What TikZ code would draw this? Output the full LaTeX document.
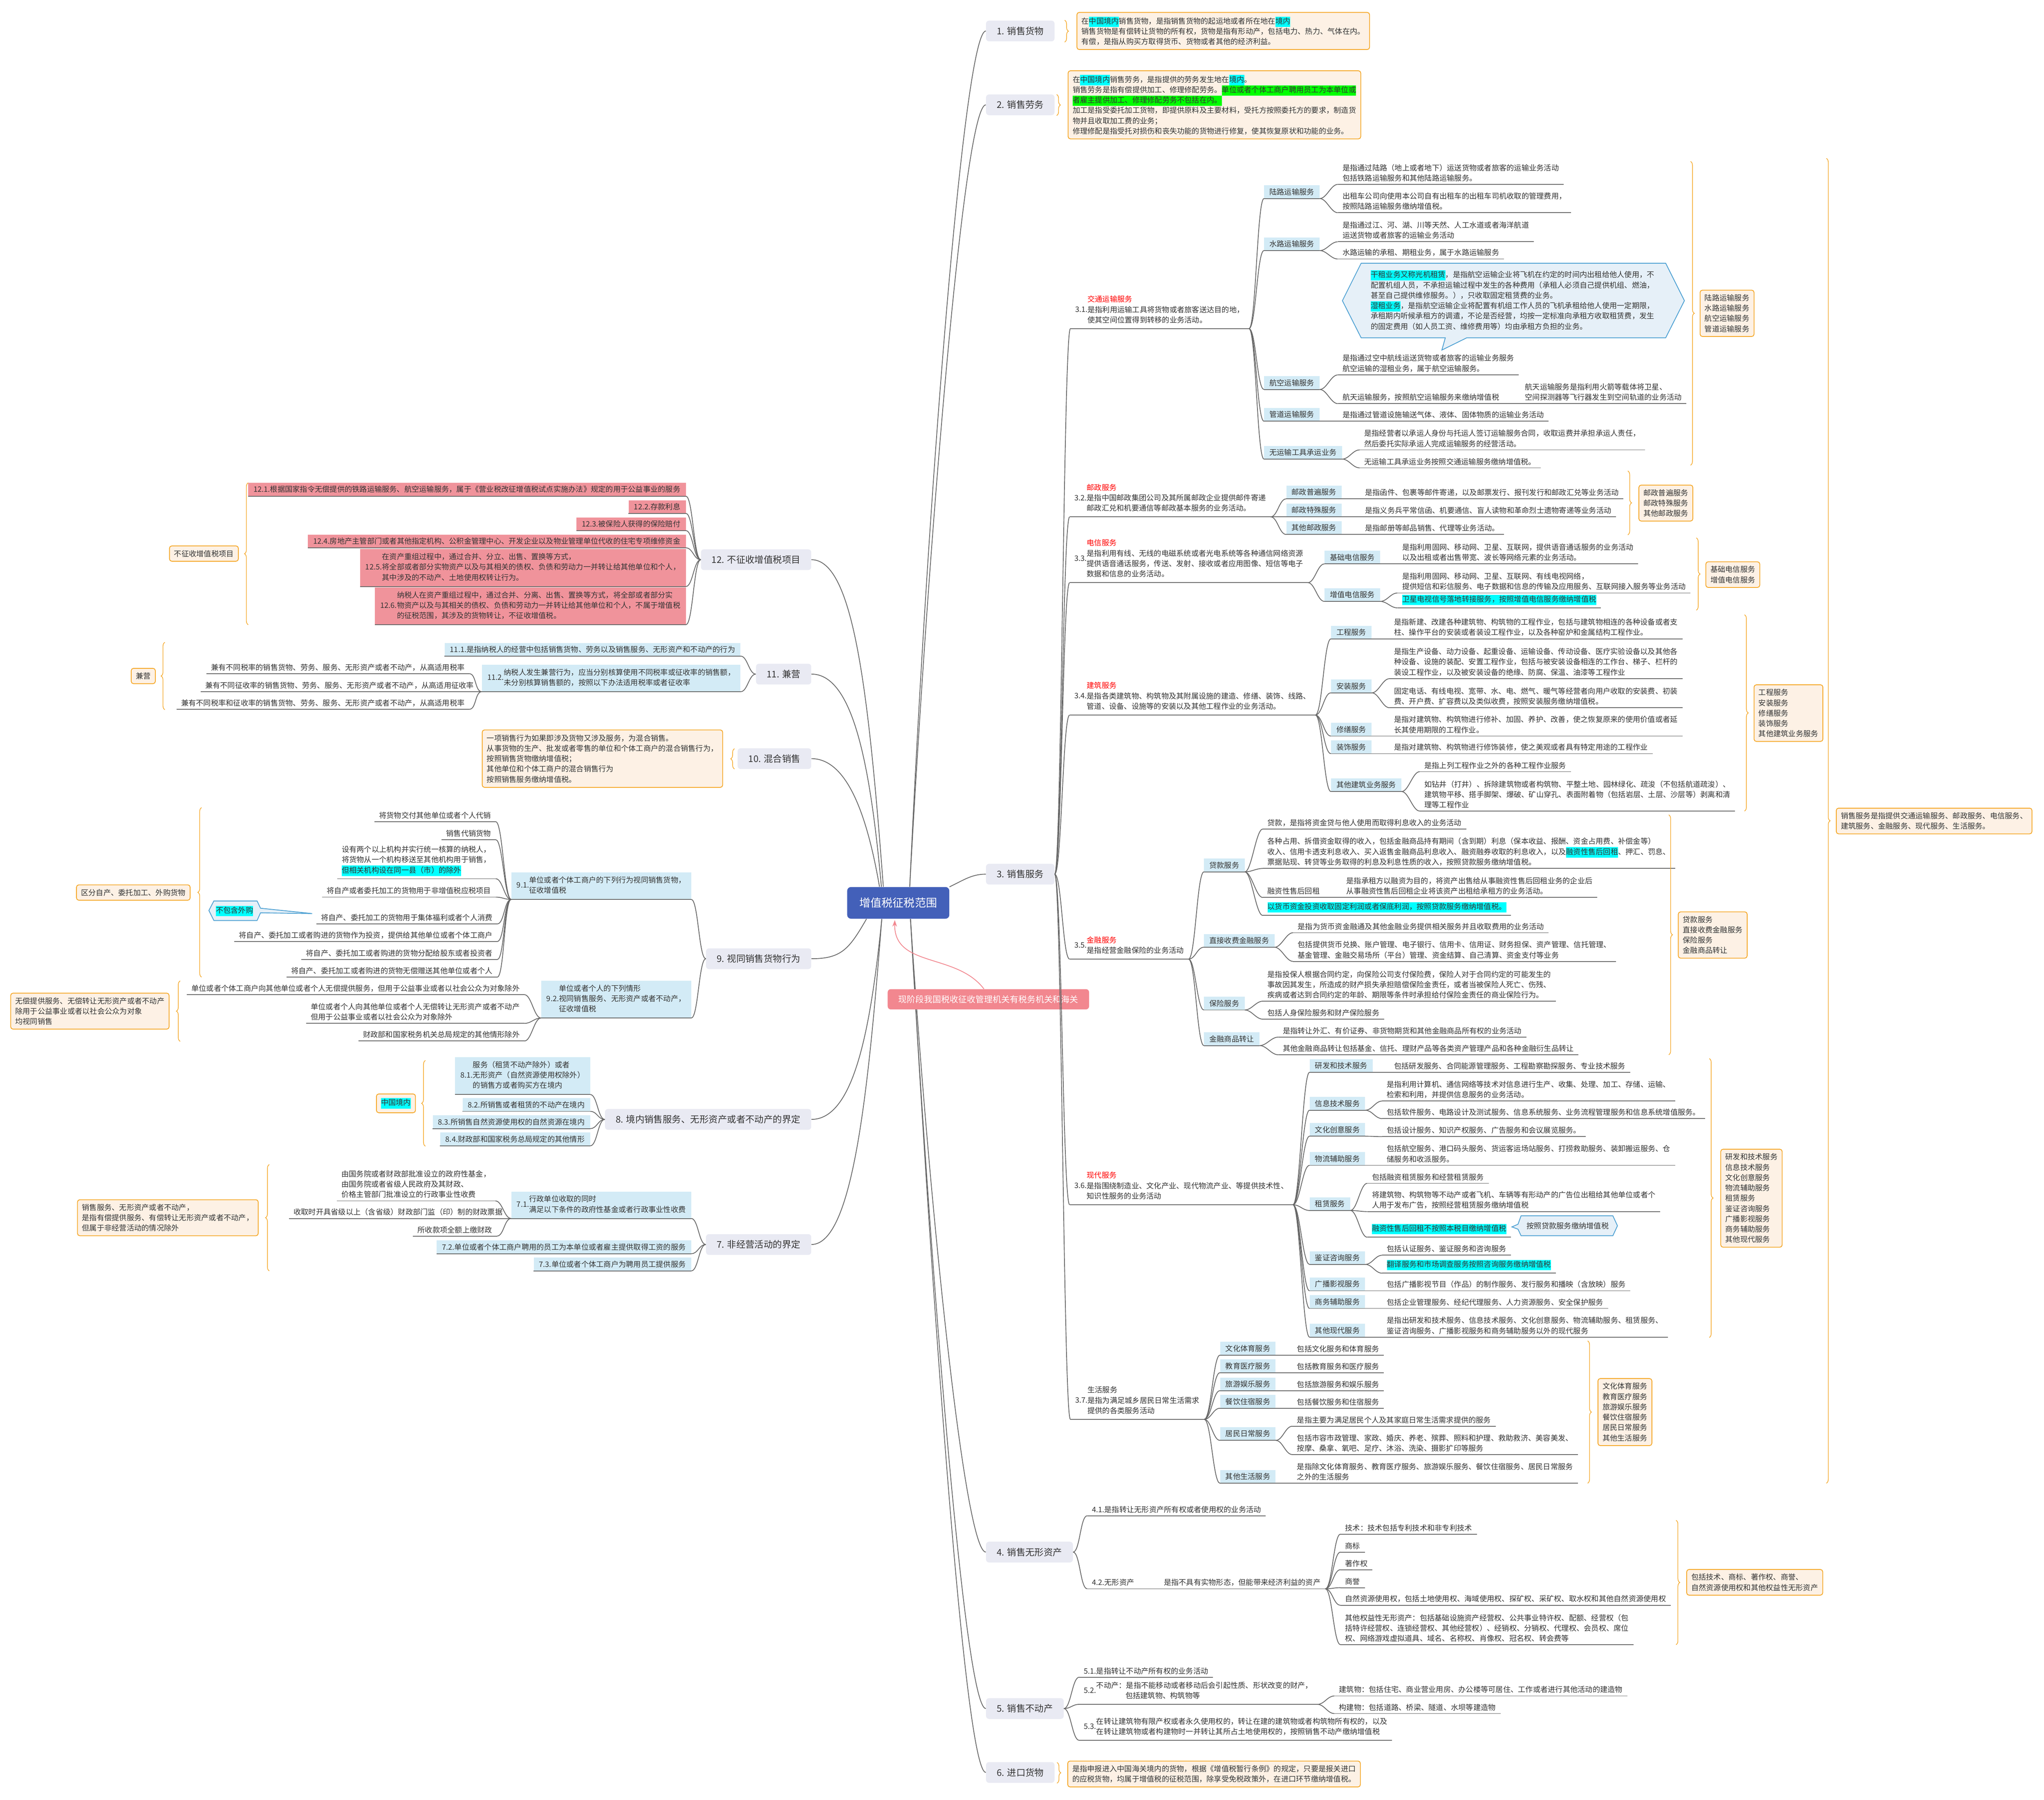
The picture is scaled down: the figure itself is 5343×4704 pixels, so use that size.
\documentclass[tikz,border=0pt]{standalone}
\usepackage{fontspec}
\setmainfont{Noto Sans CJK SC}
\usetikzlibrary{decorations.pathreplacing,arrows.meta}
\definecolor{txt}{HTML}{333333}
\definecolor{mainf}{HTML}{E9EAF3}
\definecolor{cenf}{HTML}{4360B9}
\definecolor{bluef}{HTML}{D3EBF6}
\definecolor{pinkf}{HTML}{F0939B}
\definecolor{notef}{HTML}{FDF1E5}
\definecolor{orng}{HTML}{F5A623}
\definecolor{lnc}{HTML}{666666}
\definecolor{callf}{HTML}{E6F0F8}
\definecolor{callb}{HTML}{4A9FD2}
\definecolor{rednote}{HTML}{F2878F}
\definecolor{hlc}{HTML}{00FFFF}
\definecolor{hlg}{HTML}{00FF00}
\newcommand\fs{\fontsize{9.75pt}{13.5pt}\selectfont}
\newcommand\fmn{\fontsize{12pt}{15pt}\selectfont}
\newcommand\fcn{\fontsize{14.5pt}{18pt}\selectfont}
\newcommand\frn{\fontsize{11.2pt}{14pt}\selectfont}
\newcommand\ml[1]{\begin{tabular}[c]{@{}l@{}}#1\end{tabular}}
\newcommand\hl[1]{{\setlength{\fboxsep}{0pt}\colorbox{hlc}{\strut#1}}}
\newcommand\hg[1]{{\setlength{\fboxsep}{0pt}\colorbox{hlg}{\strut#1}}}
\newcommand\rd[1]{\textcolor{red}{#1}}
\tikzset{
  mainbox/.style={fill=mainf,rounded corners=4pt,inner xsep=14pt,inner ysep=8pt,font=\fmn,text=txt},
  leaf/.style={inner xsep=6pt,inner ysep=3.5pt,font=\fs,text=txt,align=left},
  bx/.style={inner xsep=7pt,inner ysep=4pt,font=\fs,text=txt,align=left},
  ul/.style={draw=lnc,line width=1pt},
  cn/.style={draw=lnc,line width=1pt},
  note/.style={fill=notef,draw=orng,line width=1pt,rounded corners=3pt,inner xsep=6pt,inner ysep=5.5pt,font=\fs,text=txt,align=left},
  brc/.style={draw=orng,line width=0.8pt,decorate,decoration={brace,amplitude=5pt}},
  callout/.style={fill=callf,draw=callb,line width=1pt},
}
\newcommand\lfR[4]{\node[leaf,anchor=south west] (#1) at (#2,#3) {#4};\draw[ul] (#1.south west)--(#1.south east);}
\newcommand\lfL[4]{\node[leaf,anchor=south east] (#1) at (#2,#3) {#4};\draw[ul] (#1.south west)--(#1.south east);}
\newcommand\bxR[5]{\node[bx,fill=#4,anchor=south west] (#1) at (#2,#3) {#5};\draw[ul] (#1.south west)--(#1.south east);}
\newcommand\bxL[5]{\node[bx,fill=#4,anchor=south east] (#1) at (#2,#3) {#5};\draw[ul] (#1.south west)--(#1.south east);}
\newcommand\cnR[2]{\draw[cn] (#1) to[out=0,in=180,distance=9pt] (#2);}
\newcommand\cnL[2]{\draw[cn] (#1) to[out=180,in=0,distance=9pt] (#2);}
\newcommand\cxR[2]{\cnR{#1.south east}{#2.south west}}
\newcommand\cxL[2]{\cnL{#1.south west}{#2.south east}}
\newcommand\brR[3]{\draw[brc] (#1,#2) -- (#1,#3);}
\newcommand\brL[3]{\draw[brc] (#1,#3) -- (#1,#2);}
\begin{document}
\begin{tikzpicture}[x=0.5pt,y=-0.5pt]
\fill[white] (0,0) rectangle (5343,4704);
\useasboundingbox (0,0) rectangle (5343,4704);

% ===== central =====
\node[fill=cenf,rounded corners=5pt,text=white,font=\fcn,inner xsep=16pt,inner ysep=14pt] (c) at (2348,2360) {增值税征税范围};

% ===== main boxes =====
\node[mainbox,anchor=west] (m1) at (2577,81) {1. 销售货物};
\node[mainbox,anchor=west] (m2) at (2577,274) {2. 销售劳务};
\node[mainbox,anchor=west] (m3) at (2577,2285) {3. 销售服务};
\node[mainbox,anchor=west] (m4) at (2577,4057) {4. 销售无形资产};
\node[mainbox,anchor=west] (m5) at (2577,4466) {5. 销售不动产};
\node[mainbox,anchor=west] (m6) at (2577,4633) {6. 进口货物};
\node[mainbox,anchor=east] (m12) at (2121,1463) {12. 不征收增值税项目};
\node[mainbox,anchor=east] (m11) at (2121,1762) {11. 兼营};
\node[mainbox,anchor=east] (m10) at (2121,1983) {10. 混合销售};
\node[mainbox,anchor=east] (m9) at (2121,2506) {9. 视同销售货物行为};
\node[mainbox,anchor=east] (m8) at (2121,2926) {8. 境内销售服务、无形资产或者不动产的界定};
\node[mainbox,anchor=east] (m7) at (2121,3253) {7. 非经营活动的界定};

\coordinate (cU) at (2378,2318);
\coordinate (cD) at (2380,2402);
\coordinate (cU12) at (2309,2318);
\coordinate (cU11) at (2304,2318);
\coordinate (cU10) at (2299,2318);
\coordinate (cDL9) at (2265,2402);
\coordinate (cDL) at (2305,2402);
\draw[cn] (cU) .. controls (2425,1300) and (2520,81) .. (m1.west);
\draw[cn] (cU) .. controls (2428,1400) and (2520,274) .. (m2.west);
\draw[cn] (c.north east) .. controls (2520,2300) and (2540,2285) .. (m3.west);
\draw[cn] (cD) .. controls (2425,3100) and (2520,4057) .. (m4.west);
\draw[cn] (cD) .. controls (2428,3250) and (2520,4466) .. (m5.west);
\draw[cn] (cD) .. controls (2431,3300) and (2520,4633) .. (m6.west);
\draw[cn] (cU12) .. controls (2270,1800) and (2230,1463) .. (m12.east);
\draw[cn] (cU11) .. controls (2275,2000) and (2230,1762) .. (m11.east);
\draw[cn] (cU10) .. controls (2270,2150) and (2220,1983) .. (m10.east);
\draw[cn] (cDL9) .. controls (2220,2480) and (2200,2506) .. (m9.east);
\draw[cn] (cDL) .. controls (2275,2700) and (2230,2926) .. (m8.east);
\draw[cn] (cDL) .. controls (2270,2850) and (2230,3253) .. (m7.east);

\node[fill=rednote,rounded corners=4pt,text=white,font=\frn,inner xsep=14pt,inner ysep=8pt,anchor=west] (rn) at (2320,2612) {现阶段我国税收征收管理机关有税务机关和海关};
\coordinate (rnA) at (2572,2585);
\coordinate (cA) at (2339,2405);
\draw[draw=rednote,line width=1pt,-{Stealth[length=8.5pt,width=6pt]}] (rnA) .. controls (2500,2490) and (2336,2530) .. (cA);

% ===== 1, 2 =====
\node[note,anchor=west] (n1) at (2814,81) {在\hl{中国境内}销售货物，是指销售货物的起运地或者所在地在\hl{境内}\\销售货物是有偿转让货物的所有权，货物是指有形动产，包括电力、热力、气体在内。\\有偿，是指从购买方取得货币、货物或者其他的经济利益。};
\brR{2783}{53}{110}
\node[note,anchor=west] (n2) at (2791,274) {在\hl{中国境内}销售劳务，是指提供的劳务发生地在\hl{境内}。\\销售劳务是指有偿提供加工、修理修配劳务。\hg{单位或者个体工商户聘用员工为本单位或}\\\hg{者雇主提供加工、修理修配劳务不包括在内。}\\加工是指受委托加工货物，即提供原料及主要材料，受托方按照委托方的要求，制造货\\物并且收取加工费的业务；\\修理修配是指受托对损伤和丧失功能的货物进行修复，使其恢复原状和功能的业务。};
\brR{2762}{247}{302}

% ===== 3. labels =====
\lfR{l31}{2798}{859}{3.1.\ml{\rd{交通运输服务}\\是指利用运输工具将货物或者旅客送达目的地，\\使其空间位置得到转移的业务活动。}}
\lfR{l32}{2796}{1351}{3.2.\ml{\rd{邮政服务}\\是指中国邮政集团公司及其所属邮政企业提供邮件寄递\\邮政汇兑和机要通信等邮政基本服务的业务活动。}}
\lfR{l33}{2796}{1523}{3.3.\ml{\rd{电信服务}\\是指利用有线、无线的电磁系统或者光电系统等各种通信网络资源\\提供语音通话服务，传送、发射、接收或者应用图像、短信等电子\\数据和信息的业务活动。}}
\lfR{l34}{2796}{1869}{3.4.\ml{\rd{建筑服务}\\是指各类建筑物、构筑物及其附属设施的建造、修缮、装饰、线路、\\管道、设备、设施等的安装以及其他工程作业的业务活动。}}
\lfR{l35}{2796}{2507}{3.5.\ml{\rd{金融服务}\\是指经营金融保险的业务活动}}
\lfR{l36}{2796}{3149}{3.6.\ml{\rd{现代服务}\\是指围绕制造业、文化产业、现代物流产业、等提供技术性、\\知识性服务的业务活动}}
\lfR{l37}{2798}{3710}{3.7.\ml{生活服务\\是指为满足城乡居民日常生活需求\\提供的各类服务活动}}
\cnR{m3.east}{l31.south west}
\cnR{m3.east}{l32.south west}
\cnR{m3.east}{l33.south west}
\cnR{m3.east}{l34.south west}
\cnR{m3.east}{l35.south west}
\cnR{m3.east}{l36.south west}
\cnR{m3.east}{l37.south west}

% ===== 3.1 =====
\bxR{blu}{3304}{519}{bluef}{陆路运输服务}
\bxR{bsh}{3304}{655}{bluef}{水路运输服务}
\bxR{bhk}{3304}{1018}{bluef}{航空运输服务}
\bxR{bgd}{3304}{1101}{bluef}{管道运输服务}
\bxR{bwu}{3304}{1200}{bluef}{无运输工具承运业务}
\cxR{l31}{blu}\cxR{l31}{bsh}\cxR{l31}{bhk}\cxR{l31}{bgd}\cxR{l31}{bwu}
\lfR{lu1}{3497}{482}{是指通过陆路（地上或者地下）运送货物或者旅客的运输业务活动\\包括铁路运输服务和其他陆路运输服务。}
\lfR{lu2}{3497}{556}{出租车公司向使用本公司自有出租车的出租车司机收取的管理费用，\\按照陆路运输服务缴纳增值税。}
\lfR{sh1}{3497}{632}{是指通过江、河、湖、川等天然、人工水道或者海洋航道\\运送货物或者旅客的运输业务活动}
\lfR{sh2}{3497}{677}{水路运输的承租、期租业务，属于水路运输服务}
\lfR{hk1}{3497}{980}{是指通过空中航线运送货物或者旅客的运输业务服务\\航空运输的湿租业务，属于航空运输服务。}
\lfR{hk2}{3497}{1055}{航天运输服务，按照航空运输服务来缴纳增值税}
\lfR{hk3}{3974}{1055}{航天运输服务是指利用火箭等载体将卫星、\\空间探测器等飞行器发生到空间轨道的业务活动}
\lfR{gd1}{3497}{1101}{是指通过管道设施输送气体、液体、固体物质的运输业务活动}
\lfR{wu1}{3554}{1176}{是指经营者以承运人身份与托运人签订运输服务合同，收取运费并承担承运人责任，\\然后委托实际承运人完成运输服务的经营活动。}
\lfR{wu2}{3554}{1223}{无运输工具承运业务按照交通运输服务缴纳增值税。}
\cxR{blu}{lu1}\cxR{blu}{lu2}\cxR{bsh}{sh1}\cxR{bsh}{sh2}\cxR{bhk}{hk1}\cxR{bhk}{hk2}\cxR{hk2}{hk3}\cxR{bgd}{gd1}\cxR{bwu}{wu1}\cxR{bwu}{wu2}
\draw[callout] (3509,786) -- (3558,688) -- (4354,688) -- (4403,786) -- (4354,883) -- (3834,883) -- (3769,915) -- (3778,883) -- (3558,883) -- cycle;
\node[anchor=north west,inner sep=0pt,font=\fs,text=txt,align=left] (cal1) at (3583,706) {\hl{干租业务又称光机租赁}，是指航空运输企业将飞机在约定的时间内出租给他人使用，不\\配置机组人员，不承担运输过程中发生的各种费用（承租人必须自己提供机组、燃油，\\甚至自己提供维修服务。），只收取固定租赁费的业务。\\\hl{湿租业务}，是指航空运输企业将配置有机组工作人员的飞机承租给他人使用一定期限，\\承租期内听候承租方的调遣，不论是否经营，均按一定标准向承租方收取租赁费，发生\\的固定费用（如人员工资、维修费用等）均由承租方负担的业务。};
\brR{4419}{422}{1216}
\node[note,anchor=west] (s31) at (4443,819) {陆路运输服务\\水路运输服务\\航空运输服务\\管道运输服务};

% ===== 3.2 =====
\bxR{byz1}{3362}{1304}{bluef}{邮政普遍服务}
\bxR{byz2}{3362}{1351}{bluef}{邮政特殊服务}
\bxR{byz3}{3362}{1397}{bluef}{其他邮政服务}
\cxR{l32}{byz1}\cxR{l32}{byz2}\cxR{l32}{byz3}
\lfR{yz1}{3556}{1304}{是指函件、包裹等邮件寄递，以及邮票发行、报刊发行和邮政汇兑等业务活动}
\lfR{yz2}{3556}{1351}{是指义务兵平常信函、机要通信、盲人读物和革命烈士遗物寄递等业务活动}
\lfR{yz3}{3556}{1397}{是指邮册等邮品销售、代理等业务活动。}
\cxR{byz1}{yz1}\cxR{byz2}{yz2}\cxR{byz3}{yz3}
\brR{4255}{1231}{1398}
\node[note,anchor=west] (s32) at (4283,1315) {邮政普遍服务\\邮政特殊服务\\其他邮政服务};

% ===== 3.3 =====
\bxR{bjc}{3462}{1474}{bluef}{基础电信服务}
\bxR{bzz}{3462}{1572}{bluef}{增值电信服务}
\cxR{l33}{bjc}\cxR{l33}{bzz}
\lfR{jc1}{3653}{1474}{是指利用固网、移动网、卫星、互联网，提供语音通话服务的业务活动\\以及出租或者出售带宽、波长等网络元素的业务活动。}
\lfR{zz1}{3653}{1550}{是指利用固网、移动网、卫星、互联网、有线电视网络，\\提供短信和彩信服务、电子数据和信息的传输及应用服务、互联网接入服务等业务活动}
\lfR{zz2}{3653}{1589}{\hl{卫星电视信号落地转接服务，按照增值电信服务缴纳增值税}}
\cxR{bjc}{jc1}\cxR{bzz}{zz1}\cxR{bzz}{zz2}
\brR{4434}{1406}{1595}
\node[note,anchor=west] (s33) at (4458,1502) {基础电信服务\\增值电信服务};

% ===== 3.4 =====
\bxR{bgc}{3479}{1670}{bluef}{工程服务}
\bxR{baz}{3479}{1811}{bluef}{安装服务}
\bxR{bxs}{3479}{1924}{bluef}{修缮服务}
\bxR{bzs}{3479}{1970}{bluef}{装饰服务}
\bxR{bqt}{3479}{2069}{bluef}{其他建筑业务服务}
\cxR{l34}{bgc}\cxR{l34}{baz}\cxR{l34}{bxs}\cxR{l34}{bzs}\cxR{l34}{bqt}
\lfR{gc1}{3632}{1670}{是指新建、改建各种建筑物、构筑物的工程作业，包括与建筑物相连的各种设备或者支\\柱、操作平台的安装或者装设工程作业，以及各种窑炉和金属结构工程作业。}
\lfR{az1}{3632}{1774}{是指生产设备、动力设备、起重设备、运输设备、传动设备、医疗实验设备以及其他各\\种设备、设施的装配、安置工程作业，包括与被安装设备相连的工作台、梯子、栏杆的\\装设工程作业，以及被安装设备的绝缘、防腐、保温、油漆等工程作业}
\lfR{az2}{3632}{1850}{固定电话、有线电视、宽带、水、电、燃气、暖气等经营者向用户收取的安装费、初装\\费、开户费、扩容费以及类似收费，按照安装服务缴纳增值税。}
\lfR{xs1}{3632}{1924}{是指对建筑物、构筑物进行修补、加固、养护、改善，使之恢复原来的使用价值或者延\\长其使用期限的工程作业。}
\lfR{zs1}{3632}{1970}{是指对建筑物、构筑物进行修饰装修，使之美观或者具有特定用途的工程作业}
\lfR{qt1}{3711}{2017}{是指上列工程作业之外的各种工程作业服务}
\lfR{qt2}{3711}{2120}{如钻井（打井）、拆除建筑物或者构筑物、平整土地、园林绿化、疏浚（不包括航道疏浚）、\\建筑物平移、搭手脚架、爆破、矿山穿孔、表面附着物（包括岩层、土层、沙层等）剥离和清\\理等工程作业}
\cxR{bgc}{gc1}\cxR{baz}{az1}\cxR{baz}{az2}\cxR{bxs}{xs1}\cxR{bzs}{zs1}\cxR{bqt}{qt1}\cxR{bqt}{qt2}
\brR{4560}{1607}{2120}
\node[note,anchor=west] (s34) at (4584,1864) {工程服务\\安装服务\\修缮服务\\装饰服务\\其他建筑业务服务};

% ===== 3.5 =====
\bxR{bdk}{3147}{2279}{bluef}{贷款服务}
\bxR{bzj}{3147}{2476}{bluef}{直接收费金融服务}
\bxR{bbx}{3147}{2640}{bluef}{保险服务}
\bxR{bzr}{3147}{2733}{bluef}{金融商品转让}
\cxR{l35}{bdk}\cxR{l35}{bzj}\cxR{l35}{bbx}\cxR{l35}{bzr}
\lfR{dk1}{3301}{2167}{贷款，是指将资金贷与他人使用而取得利息收入的业务活动}
\lfR{dk2}{3301}{2270}{各种占用、拆借资金取得的收入，包括金融商品持有期间（含到期）利息（保本收益、报酬、资金占用费、补偿金等）\\收入、信用卡透支利息收入、买入返售金融商品利息收入、融资融券收取的利息收入，以及\hl{融资性售后回租}、押汇、罚息、\\票据贴现、转贷等业务取得的利息及利息性质的收入，按照贷款服务缴纳增值税。}
\lfR{dk3}{3301}{2346}{融资性售后回租}
\lfR{dk3a}{3507}{2346}{是指承租方以融资为目的，将资产出售给从事融资性售后回租业务的企业后\\从事融资性售后回租企业将该资产出租给承租方的业务活动。}
\lfR{dk4}{3301}{2393}{\hl{以货币资金投资收取固定利润或者保底利润，按照贷款服务缴纳增值税。}}
\lfR{zj1}{3380}{2438}{是指为货币资金融通及其他金融业务提供相关服务并且收取费用的业务活动}
\lfR{zj2}{3380}{2513}{包括提供货币兑换、账户管理、电子银行、信用卡、信用证、财务担保、资产管理、信托管理、\\基金管理、金融交易场所（平台）管理、资金结算、自己清算、资金支付等业务}
\lfR{bx1}{3301}{2617}{是指投保人根据合同约定，向保险公司支付保险费，保险人对于合同约定的可能发生的\\事故因其发生，所造成的财产损失承担赔偿保险金责任，或者当被保险人死亡、伤残、\\疾病或者达到合同约定的年龄、期限等条件时承担给付保险金责任的商业保险行为。}
\lfR{bx2}{3301}{2664}{包括人身保险服务和财产保险服务}
\lfR{zr1}{3341}{2711}{是指转让外汇、有价证券、非货物期货和其他金融商品所有权的业务活动}
\lfR{zr2}{3341}{2757}{其他金融商品转让包括基金、信托、理财产品等各类资产管理产品和各种金融衍生品转让}
\cxR{bdk}{dk1}\cxR{bdk}{dk2}\cxR{bdk}{dk3}\cxR{dk3}{dk3a}\cxR{bdk}{dk4}\cxR{bzj}{zj1}\cxR{bzj}{zj2}\cxR{bbx}{bx1}\cxR{bbx}{bx2}\cxR{bzr}{zr1}\cxR{bzr}{zr2}
\brR{4362}{2130}{2757}
\node[note,anchor=west] (s35) at (4386,2444) {贷款服务\\直接收费金融服务\\保险服务\\金融商品转让};

% ===== 3.6 =====
\bxR{byf}{3423}{2803}{bluef}{研发和技术服务}
\bxR{bxx}{3423}{2902}{bluef}{信息技术服务}
\bxR{bwh}{3423}{2970}{bluef}{文化创意服务}
\bxR{bwl}{3423}{3046}{bluef}{物流辅助服务}
\bxR{bzl}{3423}{3164}{bluef}{租赁服务}
\bxR{bjz}{3423}{3305}{bluef}{鉴证咨询服务}
\bxR{bgb}{3423}{3374}{bluef}{广播影视服务}
\bxR{bsw}{3423}{3420}{bluef}{商务辅助服务}
\bxR{bqx}{3423}{3495}{bluef}{其他现代服务}
\cxR{l36}{byf}\cxR{l36}{bxx}\cxR{l36}{bwh}\cxR{l36}{bwl}\cxR{l36}{bzl}\cxR{l36}{bjz}\cxR{l36}{bgb}\cxR{l36}{bsw}\cxR{l36}{bqx}
\lfR{yf1}{3632}{2803}{包括研发服务、合同能源管理服务、工程勘察勘探服务、专业技术服务}
\lfR{xx1}{3613}{2878}{是指利用计算机、通信网络等技术对信息进行生产、收集、处理、加工、存储、运输、\\检索和利用，并提供信息服务的业务活动。}
\lfR{xx2}{3613}{2924}{包括软件服务、电路设计及测试服务、信息系统服务、业务流程管理服务和信息系统增值服务。}
\lfR{wh1}{3613}{2971}{包括设计服务、知识产权服务、广告服务和会议展览服务。}
\lfR{wl1}{3613}{3046}{包括航空服务、港口码头服务、货运客运场站服务、打捞救助服务、装卸搬运服务、仓\\储服务和收派服务。}
\lfR{zl1}{3574}{3093}{包括融资租赁服务和经营租赁服务}
\lfR{zl2}{3574}{3167}{将建筑物、构筑物等不动产或者飞机、车辆等有形动产的广告位出租给其他单位或者个\\人用于发布广告，按照经营租赁服务缴纳增值税}
\lfR{zl3}{3574}{3234}{\hl{融资性售后回租不按照本税目缴纳增值税}}
\lfR{jz1}{3613}{3281}{包括认证服务、鉴证服务和咨询服务}
\lfR{jz2}{3613}{3328}{\hl{翻译服务和市场调查服务按照咨询服务缴纳增值税}}
\lfR{gb1}{3613}{3374}{包括广播影视节目（作品）的制作服务、发行服务和播映（含放映）服务}
\lfR{sw1}{3613}{3420}{包括企业管理服务、经纪代理服务、人力资源服务、安全保护服务}
\lfR{qx1}{3613}{3495}{是指出研发和技术服务、信息技术服务、文化创意服务、物流辅助服务、租赁服务、\\鉴证咨询服务、广播影视服务和商务辅助服务以外的现代服务}
\cxR{byf}{yf1}\cxR{bxx}{xx1}\cxR{bxx}{xx2}\cxR{bwh}{wh1}\cxR{bwl}{wl1}\cxR{bzl}{zl1}\cxR{bzl}{zl2}\cxR{bzl}{zl3}\cxR{bjz}{jz1}\cxR{bjz}{jz2}\cxR{bgb}{gb1}\cxR{bsw}{sw1}\cxR{bqx}{qx1}
\draw[callout] (3976,3178) -- (4216,3178) -- (4228,3204) -- (4216,3230) -- (3976,3230) -- (3968,3213) -- (3952,3207) -- (3968,3200) -- cycle;
\node[font=\fs,text=txt,inner sep=0pt] (cal2) at (4098,3204) {按照贷款服务缴纳增值税};
\brR{4468}{2767}{3496}
\node[note,anchor=west] (s36) at (4497,3132) {研发和技术服务\\信息技术服务\\文化创意服务\\物流辅助服务\\租赁服务\\鉴证咨询服务\\广播影视服务\\商务辅助服务\\其他现代服务};

% ===== 3.7 =====
\bxR{bwt}{3189}{3542}{bluef}{文化体育服务}
\bxR{bjy}{3189}{3588}{bluef}{教育医疗服务}
\bxR{bly}{3189}{3635}{bluef}{旅游娱乐服务}
\bxR{bcy}{3189}{3681}{bluef}{餐饮住宿服务}
\bxR{bjm}{3189}{3765}{bluef}{居民日常服务}
\bxR{bqs}{3189}{3877}{bluef}{其他生活服务}
\cxR{l37}{bwt}\cxR{l37}{bjy}\cxR{l37}{bly}\cxR{l37}{bcy}\cxR{l37}{bjm}\cxR{l37}{bqs}
\lfR{wt1}{3378}{3542}{包括文化服务和体育服务}
\lfR{jy1}{3378}{3588}{包括教育服务和医疗服务}
\lfR{ly1}{3378}{3635}{包括旅游服务和娱乐服务}
\lfR{cy1}{3378}{3681}{包括餐饮服务和住宿服务}
\lfR{jm1}{3378}{3728}{是指主要为满足居民个人及其家庭日常生活需求提供的服务}
\lfR{jm2}{3378}{3802}{包括市容市政管理、家政、婚庆、养老、殡葬、照料和护理、救助救济、美容美发、\\按摩、桑拿、氧吧、足疗、沐浴、洗染、摄影扩印等服务}
\lfR{qs1}{3378}{3877}{是指除文化体育服务、教育医疗服务、旅游娱乐服务、餐饮住宿服务、居民日常服务\\之外的生活服务}
\cxR{bwt}{wt1}\cxR{bjy}{jy1}\cxR{bly}{ly1}\cxR{bcy}{cy1}\cxR{bjm}{jm1}\cxR{bjm}{jm2}\cxR{bqs}{qs1}
\brR{4150}{3505}{3877}
\node[note,anchor=west] (s37) at (4176,3691) {文化体育服务\\教育医疗服务\\旅游娱乐服务\\餐饮住宿服务\\居民日常服务\\其他生活服务};

\brR{4774}{414}{3877}
\node[note,anchor=west] (n3) at (4799,2146) {销售服务是指提供交通运输服务、邮政服务、电信服务、\\建筑服务、金融服务、现代服务、生活服务。};

% ===== 4 =====
\lfR{l41}{2842}{3962}{4.1.是指转让无形资产所有权或者使用权的业务活动}
\lfR{l42}{2842}{4153}{4.2.无形资产}
\lfR{l42a}{3030}{4153}{是指不具有实物形态，但能带来经济利益的资产}
\cnR{m4.east}{l41.south west}
\cnR{m4.east}{l42.south west}
\cxR{l42}{l42a}
\lfR{w1}{3504}{4010}{技术：技术包括专利技术和非专利技术}
\lfR{w2}{3504}{4057}{商标}
\lfR{w3}{3504}{4103}{著作权}
\lfR{w4}{3504}{4150}{商誉}
\lfR{w5}{3504}{4196}{自然资源使用权，包括土地使用权、海域使用权、探矿权、采矿权、取水权和其他自然资源使用权}
\lfR{w6}{3504}{4299}{其他权益性无形资产：包括基础设施资产经营权、公共事业特许权、配额、经营权（包\\括特许经营权、连锁经营权、其他经营权）、经销权、分销权、代理权、会员权、席位\\权、网络游戏虚拟道具、域名、名称权、肖像权、冠名权、转会费等}
\cxR{l42a}{w1}\cxR{l42a}{w2}\cxR{l42a}{w3}\cxR{l42a}{w4}\cxR{l42a}{w5}\cxR{l42a}{w6}
\brR{4381}{3974}{4299}
\node[note,anchor=west] (s4) at (4408,4136) {包括技术、商标、著作权、商誉、\\自然资源使用权和其他权益性无形资产};

% ===== 5 =====
\lfR{l51}{2821}{4384}{5.1.是指转让不动产所有权的业务活动}
\lfR{l52}{2821}{4455}{5.2.\ml{不动产：是指不能移动或者移动后会引起性质、形状改变的财产，\\\hspace*{38pt}包括建筑物、构筑物等}}
\lfR{l53}{2821}{4549}{5.3.\ml{在转让建筑物有限产权或者永久使用权的，转让在建的建筑物或者构筑物所有权的，以及\\在转让建筑物或者构建物时一并转让其所占土地使用权的，按照销售不动产缴纳增值税}}
\cnR{m5.east}{l51.south west}
\cnR{m5.east}{l52.south west}
\cnR{m5.east}{l53.south west}
\lfR{d1}{3488}{4433}{建筑物：包括住宅、商业营业用房、办公楼等可居住、工作或者进行其他活动的建造物}
\lfR{d2}{3488}{4479}{构建物：包括道路、桥梁、隧道、水坝等建造物}
\cxR{l52}{d1}\cxR{l52}{d2}

% ===== 6 =====
\brR{2763}{4607}{4661}
\node[note,anchor=west] (n6) at (2790,4637) {是指申报进入中国海关境内的货物，根据《增值税暂行条例》的规定，只要是报关进口\\的应税货物，均属于增值税的征税范围，除享受免税政策外，在进口环节缴纳增值税。};

% ===== 12 =====
\bxL{p1}{1793}{1297}{pinkf}{12.1.根据国家指令无偿提供的铁路运输服务、航空运输服务，属于《营业税改征增值税试点实施办法》规定的用于公益事业的服务}
\bxL{p2}{1793}{1342}{pinkf}{12.2.存款利息}
\bxL{p3}{1793}{1387}{pinkf}{12.3.被保险人获得的保险赔付}
\bxL{p4}{1793}{1432}{pinkf}{12.4.房地产主管部门或者其他指定机构、公积金管理中心、开发企业以及物业管理单位代收的住宅专项维修资金}
\bxL{p5}{1793}{1533}{pinkf}{12.5.\ml{在资产重组过程中，通过合并、分立、出售、置换等方式，\\将全部或者部分实物资产以及与其相关的债权、负债和劳动力一并转让给其他单位和个人，\\其中涉及的不动产、土地使用权转让行为。}}
\bxL{p6}{1793}{1633}{pinkf}{12.6.\ml{纳税人在资产重组过程中，通过合并、分离、出售、置换等方式，将全部或者部分实\\物资产以及与其相关的债权、负债和劳动力一并转让给其他单位和个人，不属于增值税\\的征税范围，其涉及的货物转让，不征收增值税。}}
\cnL{m12.west}{p1.south east}\cnL{m12.west}{p2.south east}\cnL{m12.west}{p3.south east}\cnL{m12.west}{p4.south east}\cnL{m12.west}{p5.south east}\cnL{m12.west}{p6.south east}
\brL{649}{1262}{1633}
\node[note,anchor=east] (s12) at (624,1447) {不征收增值税项目};

% ===== 11 =====
\bxL{b111}{1936}{1715}{bluef}{11.1.是指纳税人的经营中包括销售货物、劳务以及销售服务、无形资产和不动产的行为}
\bxL{b112}{1936}{1808}{bluef}{11.2.\ml{纳税人发生兼营行为，应当分别核算使用不同税率或征收率的销售额，\\未分别核算销售额的，按照以下办法适用税率或者征收率}}
\cnL{m11.west}{b111.south east}\cnL{m11.west}{b112.south east}
\lfL{j1}{1227}{1761}{兼有不同税率的销售货物、劳务、服务、无形资产或者不动产，从高适用税率}
\lfL{j2}{1251}{1808}{兼有不同征收率的销售货物、劳务、服务、无形资产或者不动产，从高适用征收率}
\lfL{j3}{1227}{1854}{兼有不同税率和征收率的销售货物、劳务、服务、无形资产或者不动产，从高适用税率}
\cxL{b112}{j1}\cxL{b112}{j2}\cxL{b112}{j3}
\brL{431}{1679}{1855}
\node[note,anchor=east] (s11) at (407,1767) {兼营};

% ===== 10 =====
\brL{1920}{1957}{2010}
\node[note,anchor=east,inner ysep=6pt] (n10) at (1890,1983) {一项销售行为如果即涉及货物又涉及服务，为混合销售。\\从事货物的生产、批发或者零售的单位和个体工商户的混合销售行为，\\按照销售货物缴纳增值税；\\其他单位和个体工商户的混合销售行为\\按照销售服务缴纳增值税。};

% ===== 9 =====
\bxL{b91}{1807}{2351}{bluef}{9.1.\ml{单位或者个体工商户的下列行为视同销售货物，\\征收增值税}}
\bxL{b92}{1807}{2661}{bluef}{9.2.\ml{单位或者个人的下列情形\\视同销售服务、无形资产或者不动产，\\征收增值税}}
\cnL{m9.west}{b91.south east}\cnL{m9.west}{b92.south east}
\lfL{v1}{1296}{2148}{将货物交付其他单位或者个人代销}
\lfL{v2}{1296}{2195}{销售代销货物}
\lfL{v3}{1296}{2297}{设有两个以上机构并实行统一核算的纳税人，\\将货物从一个机构移送至其他机构用于销售，\\\hl{但相关机构设在同一县（市）的除外}}
\lfL{v4}{1296}{2345}{将自产或者委托加工的货物用于非增值税应税项目}
\lfL{v5}{1300}{2415}{将自产、委托加工的货物用于集体福利或者个人消费}
\lfL{v6}{1300}{2461}{将自产、委托加工或者购进的货物作为投资，提供给其他单位或者个体工商户}
\lfL{v7}{1300}{2508}{将自产、委托加工或者购进的货物分配给股东或者投资者}
\lfL{v8}{1300}{2554}{将自产、委托加工或者购进的货物无偿赠送其他单位或者个人}
\cxL{b91}{v1}\cxL{b91}{v2}\cxL{b91}{v3}\cxL{b91}{v4}\cxL{b91}{v5}\cxL{b91}{v6}\cxL{b91}{v7}\cxL{b91}{v8}
\draw[callout] (546,2380) -- (559,2355) -- (672,2355) -- (681,2374) -- (816,2388) -- (681,2386) -- (672,2406) -- (559,2406) -- cycle;
\node[font=\fs,text=txt,inner sep=0pt] (cal3) at (613,2381) {\hl{不包含外购}};
\brL{527}{2111}{2554}
\node[note,anchor=east] (s91) at (498,2333) {区分自产、委托加工、外购货物};
\lfL{u1}{1371}{2600}{单位或者个体工商户向其他单位或者个人无偿提供服务，但用于公益事业或者以社会公众为对象除外}
\lfL{u2}{1371}{2675}{单位或者个人向其他单位或者个人无偿转让无形资产或者不动产\\但用于公益事业或者以社会公众为对象除外}
\lfL{u3}{1371}{2721}{财政部和国家税务机关总局规定的其他情形除外}
\cxL{b92}{u1}\cxL{b92}{u2}\cxL{b92}{u3}
\brL{471}{2564}{2722}
\node[note,anchor=east] (s92) at (443,2643) {无偿提供服务、无偿转让无形资产或者不动产\\除用于公益事业或者以社会公众为对象\\均视同销售};

% ===== 8 =====
\bxL{b81}{1543}{2861}{bluef}{8.1.\ml{服务（租赁不动产除外）或者\\无形资产（自然资源使用权除外）\\的销售方或者购买方在境内}}
\bxL{b82}{1543}{2905}{bluef}{8.2.所销售或者租赁的不动产在境内}
\bxL{b83}{1543}{2950}{bluef}{8.3.所销售自然资源使用权的自然资源在境内}
\bxL{b84}{1543}{2995}{bluef}{8.4.财政部和国家税务总局规定的其他情形}
\cnL{m8.west}{b81.south east}\cnL{m8.west}{b82.south east}\cnL{m8.west}{b83.south east}\cnL{m8.west}{b84.south east}
\brL{1112}{2772}{2996}
\node[note,anchor=east] (s8) at (1087,2884) {\hl{中国境内}};

% ===== 7 =====
\bxL{b71}{1807}{3185}{bluef}{7.1.\ml{行政单位收取的同时\\满足以下条件的政府性基金或者行政事业性收费}}
\bxL{b72}{1807}{3277}{bluef}{7.2.单位或者个体工商户聘用的员工为本单位或者雇主提供取得工资的服务}
\bxL{b73}{1807}{3322}{bluef}{7.3.单位或者个体工商户为聘用员工提供服务}
\cnL{m7.west}{b71.south east}\cnL{m7.west}{b72.south east}\cnL{m7.west}{b73.south east}
\lfL{f1}{1295}{3139}{由国务院或者财政部批准设立的政府性基金，\\由国务院或者省级人民政府及其财政、\\价格主管部门批准设立的行政事业性收费}
\lfL{f2}{1326}{3185}{收取时开具省级以上（含省级）财政部门监（印）制的财政票据}
\lfL{f3}{1299}{3231}{所收款项全额上缴财政}
\cxL{b71}{f1}\cxL{b71}{f2}\cxL{b71}{f3}
\brL{704}{3044}{3322}
\node[note,anchor=east] (s7) at (676,3183) {销售服务、无形资产或者不动产，\\是指有偿提供服务、有偿转让无形资产或者不动产，\\但属于非经营活动的情况除外};
\end{tikzpicture}
\end{document}
